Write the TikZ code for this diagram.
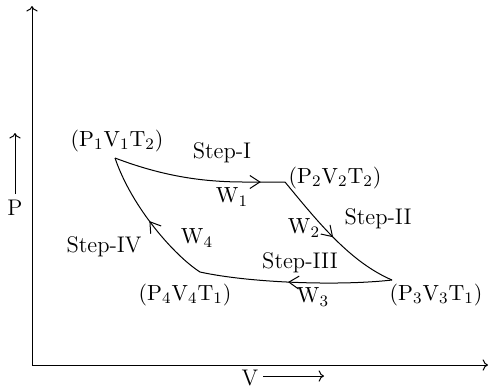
\documentclass[tikz,border=0pt]{standalone}
\usetikzlibrary{arrows.meta,decorations.markings}
\tikzset{
  midarrow/.style={postaction={decorate},decoration={markings,
    mark=at position #1 with {\arrow{Straight Barb[length=5pt,width=6.5pt]}}}},
  lbl/.style={inner sep=0pt,font=\fontsize{11.3}{13}\selectfont}
}
\begin{document}
\begin{tikzpicture}[x=0.5pt,y=-0.5pt,line width=0.5pt]
\useasboundingbox (0,0) rectangle (488,388);
% axes
\coordinate (o) at (32,365);
\coordinate (ytop) at (32,6);
\coordinate (xend) at (488,365);
\draw[->] (o) -- (ytop);
\draw[->] (o) -- (xend);
\node[lbl] (plab) at (15,208) {P};
\coordinate (pa) at (15,194);
\coordinate (pb) at (15,133);
\draw[->] (pa) -- (pb);
\node[lbl] (vlab) at (250,378) {V};
\coordinate (va) at (263,376);
\coordinate (vb) at (324,376);
\draw[->] (va) -- (vb);
% corners of the cycle
\coordinate (c1) at (115,158);
\coordinate (c2) at (285,182);
\coordinate (c3) at (392,280);
\coordinate (c4) at (200,272);
\draw[midarrow=0.86] (c1) .. controls (165,177) and (205,182) .. (245,182) -- (c2);
\draw[midarrow=0.5] (c2) .. controls (318,222) and (350,262) .. (c3);
\draw[midarrow=0.54] (c3) .. controls (340,286) and (250,283) .. (c4);
\draw[midarrow=0.5] (c4) .. controls (175,256) and (132,208) .. (c1);
% states
\node[lbl] (s1) at (117,141) {$\mathrm{(P_1V_1T_2)}$};
\node[lbl] (s2) at (335,178) {$\mathrm{(P_2V_2T_2)}$};
\node[lbl] (s3) at (436,295) {$\mathrm{(P_3V_3T_1)}$};
\node[lbl] (s4) at (185,295) {$\mathrm{(P_4V_4T_1)}$};
% steps and work
\node[lbl] (st1) at (222,153) {Step-I};
\node[lbl] (st2) at (378,219) {Step-II};
\node[lbl] (st3) at (300,263) {Step-III};
\node[lbl] (st4) at (104,247) {Step-IV};
\node[lbl] (w1) at (232,197) {$\mathrm{W_1}$};
\node[lbl] (w2) at (304,228) {$\mathrm{W_2}$};
\node[lbl] (w3) at (313,297) {$\mathrm{W_3}$};
\node[lbl] (w4) at (197,238) {$\mathrm{W_4}$};
\end{tikzpicture}
\end{document}
